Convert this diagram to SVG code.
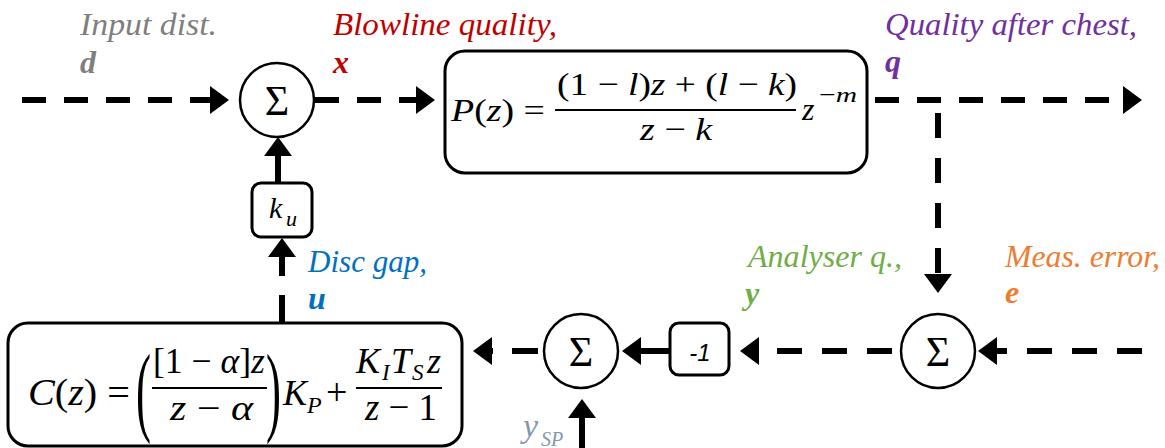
<svg xmlns="http://www.w3.org/2000/svg" width="1165" height="448" viewBox="0 0 1165 448">
<style>
.conn{fill:none;stroke:#000;stroke-width:6}
.box{fill:#fff;stroke:#000;stroke-width:3}
.sum{fill:#fff;stroke:#000;stroke-width:2.5}
.lbl{font-family:"Liberation Serif",serif;font-style:italic;font-size:32px}
.v{font-weight:bold}
.m{font-family:"Liberation Serif",serif;font-size:32px;fill:#000}
.it{font-style:italic}
.sig{font-family:"Liberation Serif",serif;font-size:42px;text-anchor:middle}
.bar{stroke:#000;stroke-width:2}
</style>
<defs>
<marker id="arr" viewBox="0 0 19 28" refX="0" refY="14" markerWidth="19" markerHeight="28" markerUnits="userSpaceOnUse" orient="auto">
<path d="M0,0 L19,14 L0,28 z" fill="#000"/>
</marker>
</defs>

<g id="connectors">
<path class="conn" d="M22,100 H210" stroke-dasharray="24 18" marker-end="url(#arr)"/>
<path class="conn" d="M315,100 H416" stroke-dasharray="24 18" marker-end="url(#arr)"/>
<path class="conn" d="M875,100 H1123" stroke-dasharray="24 18" marker-end="url(#arr)"/>
<path class="conn" d="M938,113 V274" stroke-dasharray="25 20" marker-end="url(#arr)"/>
<path class="conn" d="M1142,351 H997" stroke-dasharray="25 20" marker-end="url(#arr)"/>
<path class="conn" d="M892,351 H759" stroke-dasharray="25 20" marker-end="url(#arr)"/>
<path class="conn" d="M670,351 H641" marker-end="url(#arr)"/>
<path class="conn" d="M538,351 H492" stroke-dasharray="26 19" marker-end="url(#arr)"/>
<path class="conn" d="M582,448 V418" marker-end="url(#arr)"/>
<path class="conn" d="M278,183 V156" marker-end="url(#arr)"/>
<path class="conn" d="M282,323 V257" stroke-dasharray="28 19" marker-end="url(#arr)"/>
</g>

<g id="sum1">
<circle class="sum" cx="277" cy="100" r="37"/>
<text class="sig" x="277" y="115">Σ</text>
</g>
<g id="sum2">
<circle class="sum" cx="581" cy="351" r="37"/>
<text class="sig" x="581" y="366">Σ</text>
</g>
<g id="sum3">
<circle class="sum" cx="938" cy="351" r="37"/>
<text class="sig" x="938" y="366">Σ</text>
</g>

<g id="plant">
<rect class="box" x="445" y="51" width="422" height="122" rx="20"/>
<text class="m" x="451" y="121" textLength="94" lengthAdjust="spacingAndGlyphs"><tspan class="it">P</tspan>(<tspan class="it">z</tspan>) =</text>
<text class="m" x="557" y="95" textLength="240" lengthAdjust="spacingAndGlyphs">(1 − <tspan class="it">l</tspan>)<tspan class="it">z</tspan> + (<tspan class="it">l</tspan> − <tspan class="it">k</tspan>)</text>
<line class="bar" x1="555" y1="110" x2="796" y2="110"/>
<text class="m" x="640" y="140" textLength="72" lengthAdjust="spacingAndGlyphs"><tspan class="it">z</tspan> − <tspan class="it">k</tspan></text>
<text class="m it" x="802" y="120">z</text>
<text class="m" x="819" y="102" textLength="38" lengthAdjust="spacingAndGlyphs" style="font-size:22px">−<tspan class="it">m</tspan></text>
</g>

<g id="ku">
<rect class="box" x="252" y="183" width="60" height="54" rx="9"/>
<text class="m it" x="269" y="218" style="font-size:30px">k</text>
<text class="m it" x="286" y="226" style="font-size:22px">u</text>
</g>

<g id="neg">
<rect class="box" x="670" y="323" width="59" height="52" rx="9"/>
<text x="700" y="361" text-anchor="middle" font-family="Liberation Sans, sans-serif" font-style="italic" font-size="24">-1</text>
</g>

<g id="controller">
<rect class="box" x="8" y="323" width="454" height="123" rx="20"/>
<text class="m" x="28" y="405" style="font-size:38px" textLength="102" lengthAdjust="spacingAndGlyphs"><tspan class="it">C</tspan>(<tspan class="it">z</tspan>) =</text>
<text class="m" transform="translate(136,423) scale(0.45,1)" style="font-size:100px">(</text>
<text class="m" transform="translate(266,423) scale(0.45,1)" style="font-size:100px">)</text>
<text class="m" x="153" y="373" style="font-size:35px" textLength="112" lengthAdjust="spacingAndGlyphs">[1 − <tspan class="it">α</tspan>]<tspan class="it">z</tspan></text>
<line class="bar" x1="152" y1="388" x2="267" y2="388" style="stroke-width:2.2"/>
<text class="m" x="170" y="420" style="font-size:36px" textLength="83" lengthAdjust="spacingAndGlyphs"><tspan class="it">z</tspan> − <tspan class="it">α</tspan></text>
<text class="m it" x="283" y="405" style="font-size:36px">K</text>
<text class="m it" x="307" y="413" style="font-size:24px">P</text>
<text class="m" x="326" y="405" style="font-size:38px">+</text>
<text class="m it" x="356" y="373" style="font-size:36px">K</text>
<text class="m it" x="382" y="380" style="font-size:23px">I</text>
<text class="m it" x="391" y="373" style="font-size:36px">T</text>
<text class="m it" x="412" y="380" style="font-size:23px">S</text>
<text class="m it" x="427" y="373" style="font-size:36px">z</text>
<line class="bar" x1="356" y1="388" x2="442" y2="388" style="stroke-width:2.2"/>
<text class="m" x="365" y="420" style="font-size:38px" textLength="72" lengthAdjust="spacingAndGlyphs"><tspan class="it">z</tspan> − 1</text>
</g>

<g id="labels">
<text class="lbl" x="80" y="35" fill="#7f7f7f" textLength="137" lengthAdjust="spacingAndGlyphs">Input dist.</text>
<text class="lbl v" x="80" y="73" fill="#7f7f7f">d</text>
<text class="lbl" x="333" y="35" fill="#c00000" textLength="224" lengthAdjust="spacingAndGlyphs">Blowline quality,</text>
<text class="lbl v" x="333" y="73" fill="#c00000">x</text>
<text class="lbl" x="885" y="35" fill="#7030a0" textLength="252" lengthAdjust="spacingAndGlyphs">Quality after chest,</text>
<text class="lbl v" x="885" y="72" fill="#7030a0">q</text>
<text class="lbl" x="308" y="272" fill="#0070c0" textLength="119" lengthAdjust="spacingAndGlyphs">Disc gap,</text>
<text class="lbl v" x="308" y="309" fill="#0070c0">u</text>
<text class="lbl" x="748" y="267" fill="#70ad47" textLength="154" lengthAdjust="spacingAndGlyphs">Analyser q.,</text>
<text class="lbl v" x="745" y="304" fill="#70ad47">y</text>
<text class="lbl" x="1005" y="267" fill="#ed7d31" textLength="155" lengthAdjust="spacingAndGlyphs">Meas. error,</text>
<text class="lbl v" x="1005" y="303" fill="#ed7d31">e</text>
<text class="lbl" x="523" y="437" fill="#8497b0" style="font-size:34px">y</text>
<text class="lbl" x="541" y="446" fill="#8497b0" style="font-size:20px">SP</text>
</g>
</svg>
